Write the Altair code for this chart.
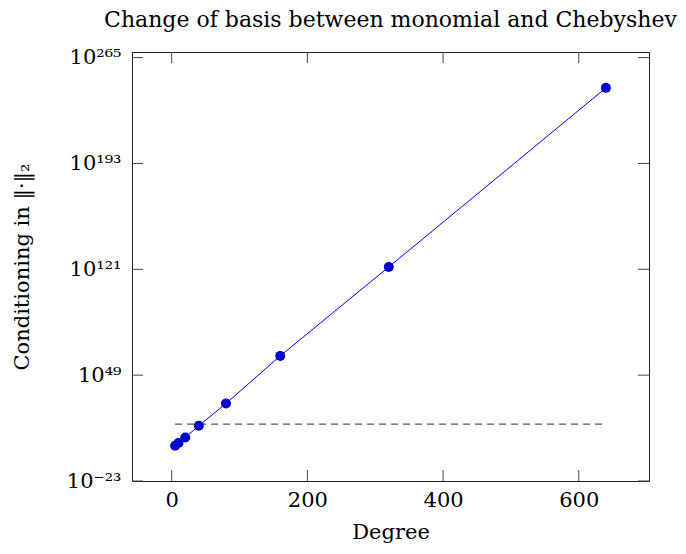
import altair as alt
import pandas as pd

# data
degree = [5, 10, 20, 40, 80, 160, 320, 640]
log10_cond = [1.0, 2.8, 6.6, 14.6, 29.7, 62.1, 122.6, 244.4]
cond = [10.0 ** e for e in log10_cond]

dash_x = [5, 640]
dash_y = [4.5e15, 4.5e15]

x_ticks = [0, 200, 400, 600]
y_tick_exps = [-23, 49, 121, 193, 265]
y_ticks = [10.0 ** e for e in y_tick_exps]

x_domain = [-58.5, 703.5]
y_domain = [1e-23, 10.0 ** 268.8]

W, H = 517, 429
FONT = "DejaVu Serif"
FS = 21
TL = 11

sup = str.maketrans("-0123456789", "⁻⁰¹²³⁴⁵⁶⁷⁸⁹")
e_expr = "round(log(datum.value)/LN10)"
parts = []
for e in reversed(y_tick_exps):
    parts.append(f"{e_expr} == {e} ? '10{str(e).translate(sup)}' : ")
label_expr = "".join(parts) + "''"

df = pd.DataFrame({"degree": degree, "cond": cond})
df_dash = pd.DataFrame({"degree": dash_x, "cond": dash_y})
df_xt = pd.DataFrame({"t": x_ticks})
df_yt = pd.DataFrame({"t": y_ticks})

xs = alt.Scale(domain=x_domain, nice=False, zero=False)
ys = alt.Scale(type="log", domain=y_domain, nice=False)

x_enc = alt.X(
    "degree:Q", scale=xs, title="Degree",
    axis=alt.Axis(values=x_ticks, ticks=False, domain=False, grid=False,
                  labelPadding=8, titlePadding=11, labelFlush=False),
)
y_enc = alt.Y(
    "cond:Q", scale=ys, title="Conditioning in ‖·‖₂",
    axis=alt.Axis(values=y_ticks, ticks=False, domain=False, grid=False,
                  labelExpr=label_expr, labelPadding=11, titlePadding=34,
                  labelFlush=False),
)

line = alt.Chart(df).mark_line(color="#0000ff", strokeWidth=1).encode(x=x_enc, y=y_enc)
pts = alt.Chart(df).mark_point(filled=True, color="#0000cc", size=100, opacity=1).encode(
    x="degree:Q", y="cond:Q")
dash = alt.Chart(df_dash).mark_line(color="#555555", strokeWidth=1.1, strokeDash=[7, 5]).encode(
    x="degree:Q", y="cond:Q")

tick_color = "#444444"
left_t = alt.Chart(df_yt).mark_rule(color=tick_color, strokeWidth=1).encode(
    y=alt.Y("t:Q", scale=ys), x=alt.value(0), x2=alt.value(TL))
right_t = alt.Chart(df_yt).mark_rule(color=tick_color, strokeWidth=1).encode(
    y=alt.Y("t:Q", scale=ys), x=alt.value(W - TL), x2=alt.value(W))
bot_t = alt.Chart(df_xt).mark_rule(color=tick_color, strokeWidth=1).encode(
    x=alt.X("t:Q", scale=xs), y=alt.value(H - TL), y2=alt.value(H))
top_t = alt.Chart(df_xt).mark_rule(color=tick_color, strokeWidth=1).encode(
    x=alt.X("t:Q", scale=xs), y=alt.value(0), y2=alt.value(TL))

chart = (
    alt.layer(line, dash, pts, left_t, right_t, bot_t, top_t)
    .properties(
        width=W, height=H,
        background="white",
        title=alt.TitleParams("Change of basis between monomial and Chebyshev",
                              font=FONT, fontSize=22, fontWeight="normal",
                              color="black", offset=15, anchor="middle"),
        autosize=alt.AutoSizeParams(type="none"),
        padding={"left": 124, "top": 44, "right": 29, "bottom": 65},
    )
    .configure_view(stroke="#222222", strokeWidth=1)
    .configure_axis(labelFont=FONT, titleFont=FONT, labelFontSize=FS, titleFontSize=FS,
                    labelColor="black", titleColor="black", titleFontWeight="normal")
)

chart.save("out.html", embed_options={"renderer": "svg", "actions": False})
